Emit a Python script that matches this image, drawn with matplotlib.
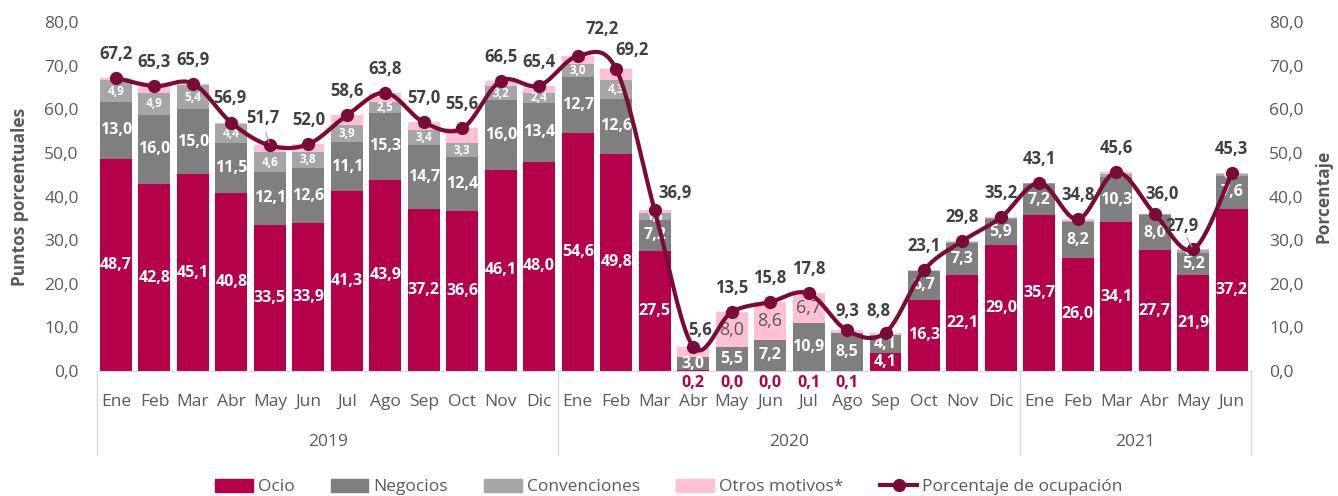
import numpy as np
import matplotlib
matplotlib.use("Agg")
import matplotlib.pyplot as plt
from matplotlib.lines import Line2D
from matplotlib.patches import Patch
import matplotlib.transforms as mtrans

plt.rcParams['font.family'] = ['Open Sans', 'DejaVu Sans']

months = ["Ene", "Feb", "Mar", "Abr", "May", "Jun", "Jul", "Ago", "Sep", "Oct", "Nov", "Dic",
          "Ene", "Feb", "Mar", "Abr", "May", "Jun", "Jul", "Ago", "Sep", "Oct", "Nov", "Dic",
          "Ene", "Feb", "Mar", "Abr", "May", "Jun"]
years = ["2019", "2020", "2021"]
year_counts = [12, 12, 6]

ocio = [48.7, 42.8, 45.1, 40.8, 33.5, 33.9, 41.3, 43.9, 37.2, 36.6, 46.1, 48.0,
        54.6, 49.8, 27.5, 0.2, 0.0, 0.0, 0.1, 0.1, 4.1, 16.3, 22.1, 29.0,
        35.7, 26.0, 34.1, 27.7, 21.9, 37.2]
negocios = [13.0, 16.0, 15.0, 11.5, 12.1, 12.6, 11.1, 15.3, 14.7, 12.4, 16.0, 13.4,
            12.7, 12.6, 7.2, 3.0, 5.5, 7.2, 10.9, 8.5, 4.1, 6.7, 7.3, 5.9,
            7.2, 8.2, 10.3, 8.0, 5.2, 7.6]
convenciones = [4.9, 4.9, 5.4, 4.4, 4.6, 3.8, 3.9, 2.5, 3.4, 3.3, 3.2, 2.4,
                3.0, 4.3, 1.5, 0.1, 0.0, 0.0, 0.1, 0.2, 0.1, 0.0, 0.1, 0.1,
                0.1, 0.3, 0.8, 0.2, 0.7, 0.3]
otros = [0.6, 1.6, 0.4, 0.2, 1.5, 1.7, 2.3, 2.1, 1.7, 3.3, 1.2, 1.6,
         1.9, 2.5, 0.7, 2.3, 8.0, 8.6, 6.7, 0.5, 0.5, 0.1, 0.3, 0.2,
         0.1, 0.3, 0.4, 0.1, 0.1, 0.2]
ocupacion = [67.2, 65.3, 65.9, 56.9, 51.7, 52.0, 58.6, 63.8, 57.0, 55.6, 66.5, 65.4,
             72.2, 69.2, 36.9, 5.6, 13.5, 15.8, 17.8, 9.3, 8.8, 23.1, 29.8, 35.2,
             43.1, 34.8, 45.6, 36.0, 27.9, 45.3]

C_OCIO = "#B5004A"
C_NEG = "#7F7F7F"
C_CONV = "#A6A6A6"
C_OTROS = "#FFBFD4"
C_LINE = "#7A0B37"
C_TXT = "#595959"
C_LAB = "#404040"

fmt = lambda v: f"{v:.1f}".replace(".", ",")

fig = plt.figure(figsize=(13.38, 4.96), dpi=100)
ax = fig.add_axes([0.0723, 0.252, 0.8627, 0.7036])
n = len(months)
x = np.arange(n)
w = 0.83

ocio_a = np.array(ocio); neg_a = np.array(negocios); conv_a = np.array(convenciones); ot_a = np.array(otros)
ax.bar(x, ocio_a, w, color=C_OCIO, zorder=2)
ax.bar(x, neg_a, w, bottom=ocio_a, color=C_NEG, zorder=2)
ax.bar(x, conv_a, w, bottom=ocio_a + neg_a, color=C_CONV, zorder=2)
ax.bar(x, ot_a, w, bottom=ocio_a + neg_a + conv_a, color=C_OTROS, zorder=2)

# segment labels
for i in range(n):
    o, ng, cv, ot = ocio[i], negocios[i], convenciones[i], otros[i]
    if o >= 1:
        ax.text(i, o / 2, fmt(o), ha='center', va='center', color='white',
                fontsize=11.5, fontweight='bold', zorder=4)
    else:
        ax.annotate(fmt(o), (i, 0), xytext=(0, -3), textcoords='offset points',
                    ha='center', va='top', color=C_OCIO, fontsize=11.5,
                    fontweight='bold', zorder=4, annotation_clip=False)
    if ng >= 1:
        ax.text(i, o + ng / 2, fmt(ng), ha='center', va='center', color='white',
                fontsize=11.5, fontweight='bold', zorder=4)
    if (i < 15 or i >= 28) and cv > 0:
        ax.text(i, o + ng + cv / 2, fmt(cv), ha='center', va='center', color='white',
                fontsize=8.5, fontweight='bold', zorder=4)
    if ot >= 5:
        ax.text(i, o + ng + cv + ot / 2, fmt(ot), ha='center', va='center', color=C_TXT,
                fontsize=13, zorder=4)

# smoothed line (Catmull-Rom through the points)
pts = np.column_stack([x, np.array(ocupacion)])
P = np.vstack([pts[0], pts, pts[-1]])
curve = []
for k in range(1, len(P) - 2):
    p0, p1, p2, p3 = P[k - 1], P[k], P[k + 1], P[k + 2]
    c1 = p1 + (p2 - p0) / 6
    c2 = p2 - (p3 - p1) / 6
    t = np.linspace(0, 1, 25)[:, None]
    seg = (1 - t) ** 3 * p1 + 3 * (1 - t) ** 2 * t * c1 + 3 * (1 - t) * t ** 2 * c2 + t ** 3 * p2
    curve.append(seg)
curve = np.vstack(curve)
ax.plot(curve[:, 0], curve[:, 1], color=C_LINE, lw=3.0, zorder=5, solid_capstyle='round')
ax.plot(x, ocupacion, 'o', color=C_LINE, ms=8.5, zorder=6)

# occupancy labels (pixel offsets)
offsets = {3: (-2, 25), 4: (-7, 27), 12: (24, 27), 13: (16, 19), 14: (20, 17), 15: (7, 17),
           19: (0, 19), 20: (-7, 22), 27: (7, 20), 28: (-11, 23)}
for i, v in enumerate(ocupacion):
    dx, dy = offsets.get(i, (0, 24))
    ax.annotate(fmt(v), (i, v), xytext=(dx * 0.72, dy * 0.72), textcoords='offset points',
                ha='center', va='center', color=C_LAB, fontsize=12, fontweight='bold',
                zorder=7, annotation_clip=False)
# leader lines
for i, (dx, dy) in [(4, (-5, 16)), (28, (-8, 14))]:
    ax.annotate("", (i, ocupacion[i]), xytext=(dx * 0.72, dy * 0.72), textcoords='offset points',
                arrowprops=dict(arrowstyle='-', color='#A0A0A0', lw=0.8), zorder=6)

ax.set_xlim(-0.5, n - 0.5)
ax.set_ylim(0, 80)
yt = np.arange(0, 81, 10)
ax.set_yticks(yt)
ax.set_yticklabels([fmt(v) for v in yt])
ax.tick_params(axis='y', length=0, pad=13, labelsize=12.5, labelcolor=C_TXT)
ax.set_xticks([])
for s in ['top', 'right', 'left']:
    ax.spines[s].set_visible(False)
ax.spines['bottom'].set_color('#D9D9D9')
ax.set_ylabel("Puntos porcentuales", fontsize=12.5, fontweight='bold', color=C_TXT, labelpad=11)

ax2 = ax.twinx()
ax2.set_ylim(0, 80)
ax2.set_yticks(yt)
ax2.set_yticklabels([fmt(v) for v in yt])
ax2.tick_params(axis='y', length=0, pad=13, labelsize=12.5, labelcolor=C_TXT)
for s in ax2.spines.values():
    s.set_visible(False)
ax2.set_ylabel("Porcentaje", fontsize=12.5, fontweight='bold', color=C_TXT, labelpad=8)

# category axis
tr = mtrans.blended_transform_factory(ax.transData, ax.transAxes)
for i, m in enumerate(months):
    ax.text(i, -0.089, m, transform=tr, ha='center', va='center', fontsize=12.5, color=C_TXT)
start = 0
bounds = [-0.5]
for yr, c in zip(years, year_counts):
    ax.text(start + (c - 1) / 2, -0.203, yr, transform=tr, ha='center', va='center',
            fontsize=12.5, color=C_TXT)
    start += c
    bounds.append(start - 0.5)
for b in bounds:
    ax.add_line(Line2D([b, b], [0, -0.24], transform=tr, color='#D9D9D9', lw=1, clip_on=False))

handles = [Patch(color=C_OCIO), Patch(color=C_NEG), Patch(color=C_CONV), Patch(color=C_OTROS),
           Line2D([], [], color=C_LINE, lw=3.0, marker='o', ms=8.5)]
labels = ["Ocio", "Negocios", "Convenciones", "Otros motivos*", "Porcentaje de ocupación"]
leg = fig.legend(handles, labels, loc='center', bbox_to_anchor=(0.5, 0.018), ncol=5, frameon=False,
                 fontsize=12.5, handlelength=2.15, handleheight=0.8, columnspacing=2.1,
                 handletextpad=0.3, labelcolor=C_TXT)

fig.savefig("out.png", dpi=100)
